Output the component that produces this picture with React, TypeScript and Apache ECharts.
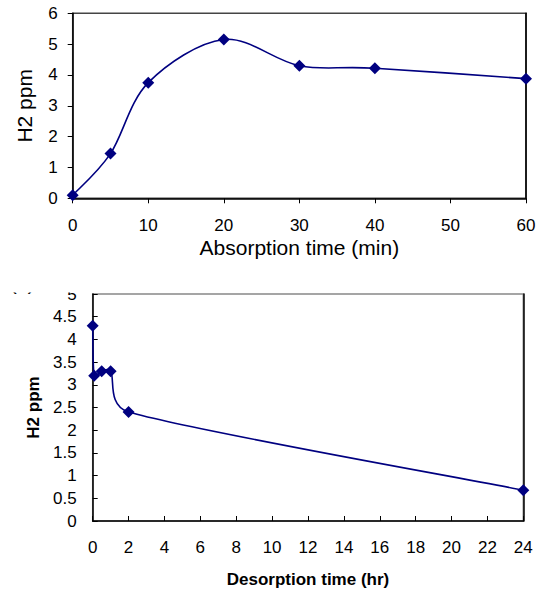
import React, { useEffect, useRef } from "react";
import * as echarts from "echarts";

// Top chart: absorption
const absTime = [0, 5, 10, 20, 30, 40, 60];
const absH2 = [0.1, 1.45, 3.75, 5.15, 4.3, 4.22, 3.88];
const absTitleX = "Absorption time (min)";
const absTitleY = "H2 ppm";

// Bottom chart: desorption
const desTime = [0, 0.083, 0.5, 1, 2, 24];
const desH2 = [4.3, 3.2, 3.3, 3.3, 2.4, 0.68];
const desTitleX = "Desorption time (hr)";
const desTitleY = "H2 ppm";
const panelLabel = "(b)";

const FONT = "'Liberation Sans', Arial, sans-serif";
const NAVY = "#000080";

const dist = (a: number[], b: number[]) => Math.hypot(a[0] - b[0], a[1] - b[1]);

// Excel-like smoothed line: Catmull-Rom (1/6) with arms clamped to half the chord
function smoothPath(pts: number[][]): string {
  const n = pts.length;
  let d = `M${pts[0][0]},${pts[0][1]}`;
  for (let i = 0; i < n - 1; i++) {
    const p0 = pts[Math.max(i - 1, 0)];
    const p1 = pts[i];
    const p2 = pts[i + 1];
    const p3 = pts[Math.min(i + 2, n - 1)];
    const d12 = dist(p1, p2);
    const d02 = dist(p0, p2);
    const d13 = dist(p1, p3);
    const f1 = d02 > 0 ? Math.min(1 / 6, (0.5 * d12) / d02) : 0;
    const f2 = d13 > 0 ? Math.min(1 / 6, (0.5 * d12) / d13) : 0;
    const c1x = p1[0] + (p2[0] - p0[0]) * f1;
    const c1y = p1[1] + (p2[1] - p0[1]) * f1;
    const c2x = p2[0] - (p3[0] - p1[0]) * f2;
    const c2y = p2[1] - (p3[1] - p1[1]) * f2;
    d += ` C${c1x},${c1y} ${c2x},${c2y} ${p2[0]},${p2[1]}`;
  }
  return d;
}

function smoothSeries(xs: number[], ys: number[], xi: number, yi: number) {
  return {
    type: "custom",
    xAxisIndex: xi,
    yAxisIndex: yi,
    data: xs.map((t, i) => [t, ys[i]]),
    encode: { x: 0, y: 1 },
    silent: true,
    renderItem: (params: any, api: any) => {
      if (params.dataIndex !== 0) return null;
      const pts = xs.map((t, i) => api.coord([t, ys[i]]));
      return {
        type: "path",
        shape: { pathData: smoothPath(pts) },
        style: { fill: "none", stroke: NAVY, lineWidth: 1.6 },
      };
    },
  };
}

export default function App() {
  const ref = useRef<HTMLDivElement>(null);
  useEffect(() => {
    if (!ref.current) return;
    const chart = echarts.init(ref.current, null, { renderer: "svg" });
    const labelStyle = { color: "#000", fontFamily: FONT, fontSize: 17 };
    chart.setOption({
      animation: false,
      backgroundColor: "#fff",
      textStyle: { fontFamily: FONT },
      grid: [
        {
          left: 72.7, top: 13.3, width: 453.3, height: 185,
          show: true, borderColor: "#444", borderWidth: 1.5, backgroundColor: "transparent",
        },
        {
          left: 92.7, top: 294, width: 430.6, height: 227,
          show: true, borderColor: "#888", borderWidth: 1.5, backgroundColor: "transparent",
        },
      ],
      xAxis: [
        {
          type: "value", gridIndex: 0, min: 0, max: 60, interval: 10,
          axisLine: { show: true, lineStyle: { color: "#000", width: 1.5 } },
          axisTick: { show: true, inside: false, length: 5, lineStyle: { color: "#000" } },
          axisLabel: { ...labelStyle, margin: 19 },
          splitLine: { show: false },
          name: absTitleX, nameLocation: "middle", nameGap: 39,
          nameTextStyle: { color: "#000", fontFamily: FONT, fontSize: 21 },
        },
        {
          type: "value", gridIndex: 1, min: 0, max: 24, interval: 2,
          axisLine: { show: true, lineStyle: { color: "#000", width: 1.5 } },
          axisTick: { show: true, inside: true, length: 5, lineStyle: { color: "#000" } },
          axisLabel: { ...labelStyle, margin: 18 },
          splitLine: { show: false },
          name: desTitleX, nameLocation: "middle", nameGap: 50,
          nameTextStyle: { color: "#000", fontFamily: FONT, fontSize: 17, fontWeight: "bold" },
        },
      ],
      yAxis: [
        {
          type: "value", gridIndex: 0, min: 0, max: 6, interval: 1,
          axisLine: { show: true, lineStyle: { color: "#000", width: 1.5 } },
          axisTick: { show: true, inside: false, length: 5, lineStyle: { color: "#000" } },
          axisLabel: { ...labelStyle, margin: 15 },
          splitLine: { show: false },
          name: absTitleY, nameLocation: "middle", nameGap: 38,
          nameTextStyle: { color: "#000", fontFamily: FONT, fontSize: 21 },
        },
        {
          type: "value", gridIndex: 0, position: "right", min: 0, max: 6, interval: 1,
          axisLine: { show: true, lineStyle: { color: "#000", width: 1.5 } },
          axisTick: { show: false }, axisLabel: { show: false }, splitLine: { show: false },
        },
        {
          type: "value", gridIndex: 1, min: 0, max: 5, interval: 0.5,
          axisLine: { show: true, lineStyle: { color: "#000", width: 1.5 } },
          axisTick: { show: true, inside: true, length: 5, lineStyle: { color: "#000" } },
          axisLabel: { ...labelStyle, margin: 16 },
          splitLine: { show: false },
          name: desTitleY, nameLocation: "middle", nameGap: 51,
          nameTextStyle: { color: "#000", fontFamily: FONT, fontSize: 17, fontWeight: "bold" },
        },
        {
          type: "value", gridIndex: 1, position: "right", min: 0, max: 5, interval: 0.5,
          axisLine: { show: true, lineStyle: { color: "#000", width: 1.5 } },
          axisTick: { show: false }, axisLabel: { show: false }, splitLine: { show: false },
        },
      ],
      series: [
        smoothSeries(absTime, absH2, 0, 0),
        {
          type: "scatter", xAxisIndex: 0, yAxisIndex: 0, z: 5,
          data: absTime.map((t, i) => [t, absH2[i]]),
          symbol: "diamond", symbolSize: 12,
          itemStyle: { color: NAVY, opacity: 1 },
        },
        smoothSeries(desTime, desH2, 1, 2),
        {
          type: "scatter", xAxisIndex: 1, yAxisIndex: 2, z: 5,
          data: desTime.map((t, i) => [t, desH2[i]]),
          symbol: "diamond", symbolSize: 12,
          itemStyle: { color: NAVY, opacity: 1 },
        },
      ],
      graphic: [
        {
          type: "text", left: 10, top: 273, z: 99,
          style: { text: panelLabel, fontFamily: FONT, fontSize: 20, fill: "#000" },
        },
        {
          type: "rect", left: 0, top: 262, z: 100,
          shape: { width: 543, height: 30.5 },
          style: { fill: "#fff" },
        },
      ],
    });
    return () => chart.dispose();
  }, []);
  return (
    <div
      ref={ref}
      style={{ position: "absolute", left: 0, top: 0, width: 543, height: 592 }}
    />
  );
}
